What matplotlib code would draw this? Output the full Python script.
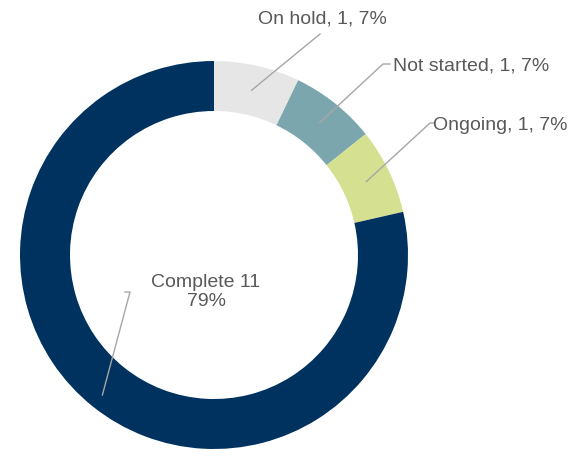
import numpy as np
import matplotlib
matplotlib.use("Agg")
import matplotlib.pyplot as plt

plt.rcParams["font.family"] = ["Liberation Sans", "DejaVu Sans"]

categories = ["On hold", "Not started", "Ongoing", "Complete"]
counts = [1, 1, 1, 11]
colors = ["#e6e6e6", "#7ca6ad", "#d5e190", "#00325f"]

W, H = 568, 461
CX, CY = 214, H - 255
R, RING = 194, 50
TEXT = "#595959"
LINE = "#a6a6a6"

fig = plt.figure(figsize=(W / 100, H / 100), dpi=100)
ax = fig.add_axes([0, 0, 1, 1])
ax.pie(counts, colors=colors, startangle=90, counterclock=False,
       radius=R, center=(CX, CY),
       wedgeprops=dict(width=RING, edgecolor="none"))
ax.set_xlim(0, W)
ax.set_ylim(0, H)
ax.set_aspect("auto")
ax.axis("off")

total = sum(counts)
pct = [round(100 * c / total) for c in counts]
labels = [f"{categories[i]}, {counts[i]}, {pct[i]}%" for i in range(3)]
labels.append(f"{categories[3]} {counts[3]}\n{pct[3]}%")

# where each label sits (pixels from top-left) and where its leader bends
text_pos = [(258, 19), (393, 66), (433, 125), (206, 292)]
text_ha = ["left", "left", "left", "center"]
bend = [(320, 34), (383, 64), (430, 123), (130, 292)]
tick = [None, (390, 64), (434, 123), (125, 292)]
# how far past the ring middle each leader reaches (complete one dips lower)
reach = [0, 0, 0, 10]

cum = np.cumsum([0] + counts)
for i in range(4):
    mid = 90 - (cum[i] + counts[i] / 2) / total * 360
    rm = R - RING / 2 + reach[i]
    x0 = CX + rm * np.cos(np.radians(mid))
    y0 = CY + rm * np.sin(np.radians(mid))
    xs = [x0, bend[i][0]]
    ys = [y0, H - bend[i][1]]
    if tick[i] is not None:
        xs.append(tick[i][0])
        ys.append(H - tick[i][1])
    ax.plot(xs, ys, color=LINE, lw=1)
    tx, ty = text_pos[i]
    ax.text(tx, H - ty, labels[i], ha=text_ha[i], va="center",
            fontsize=14, color=TEXT, linespacing=1.15)

fig.savefig("out.png", dpi=100)
